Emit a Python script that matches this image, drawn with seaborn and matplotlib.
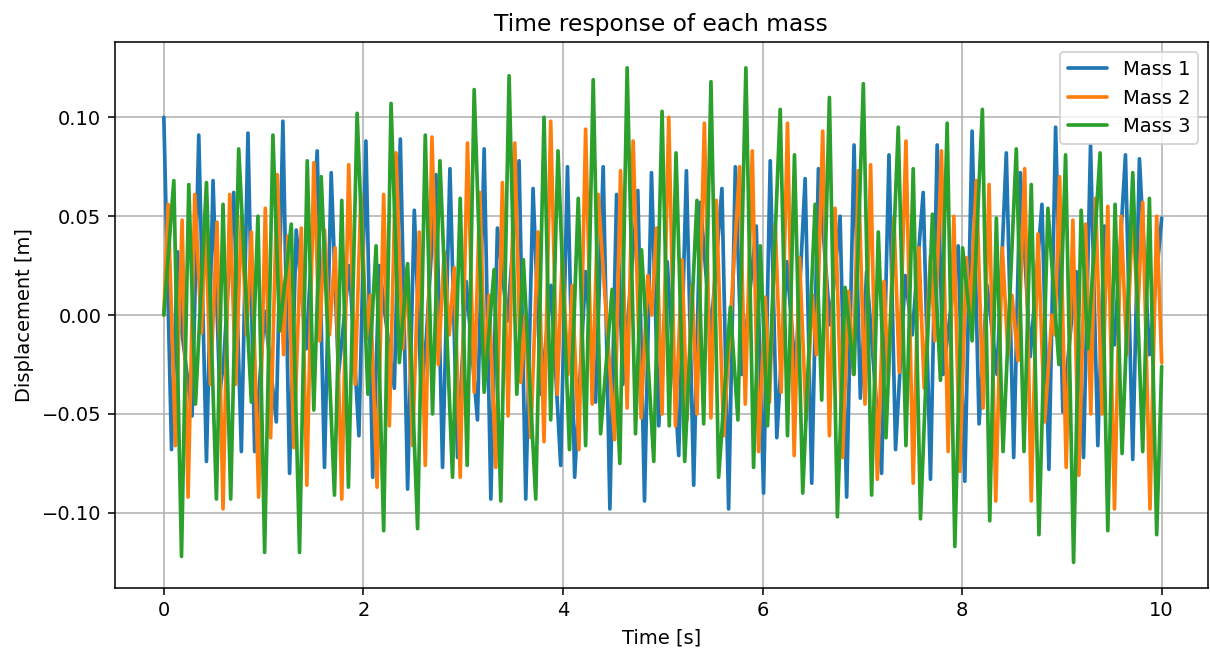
import matplotlib
matplotlib.use("Agg")
import matplotlib.pyplot as plt
import seaborn as sns

# Peaks and troughs of each mass
t_mass1 = [0.00, 0.077, 0.137, 0.18, 0.283, 0.35, 0.427, 0.493, 0.56, 0.60, 0.70, 0.777, 0.843, 0.91,
           1.01, 1.127, 1.193, 1.26, 1.327, 1.427, 1.537, 1.61, 1.677, 1.75, 1.86, 1.955,
           2.025, 2.093, 2.16, 2.21, 2.31, 2.37, 2.443, 2.51, 2.58, 2.63, 2.727, 2.793, 2.867, 2.943,
           3.03, 3.143, 3.21, 3.277, 3.343, 3.443, 3.56, 3.627, 3.70, 3.78, 3.88, 3.977,
           4.045, 4.117, 4.227, 4.327, 4.403, 4.47, 4.537, 4.60, 4.75, 4.817, 4.887, 4.96,
           5.045, 5.16, 5.237, 5.31, 5.377, 5.48, 5.593, 5.66, 5.727, 5.793, 5.937,
           6.01, 6.077, 6.143, 6.243, 6.33, 6.427, 6.493, 6.56, 6.677, 6.777, 6.843, 6.917, 6.98,
           7.043, 7.193, 7.267, 7.333, 7.43, 7.50, 7.61, 7.683, 7.75, 7.81, 7.96,
           8.027, 8.10, 8.17, 8.25, 8.35, 8.443, 8.517, 8.583, 8.683, 8.80, 8.87, 8.937,
           9.01, 9.143, 9.217, 9.287, 9.36, 9.427, 9.527, 9.637, 9.71, 9.777, 9.877, 10.0]
x_mass1 = [0.100, -0.068, 0.032, -0.008, -0.051, 0.091, -0.074, 0.068, -0.040, -0.023, 0.062, -0.069, 0.092, -0.069,
           0.002, -0.054, 0.098, -0.080, 0.043, -0.017, 0.083, -0.077, 0.072, -0.030, 0.025, -0.061,
           0.088, -0.082, 0.025, 0.003, -0.037, 0.089, -0.088, 0.053, -0.040, -0.012, 0.071, -0.077, 0.074, -0.072,
           0.017, -0.053, 0.084, -0.093, 0.044, -0.003, 0.078, -0.093, 0.064, -0.040, 0.015, -0.076,
           0.075, -0.082, 0.022, -0.044, 0.075, -0.098, 0.061, -0.035, 0.063, -0.094, 0.072, -0.056,
           0.027, -0.071, 0.073, -0.086, 0.057, -0.010, 0.064, -0.098, 0.075, -0.030, 0.045,
           -0.090, 0.078, -0.062, 0.027, -0.030, 0.069, -0.085, 0.074, -0.005, 0.050, -0.092, 0.086, -0.042,
           0.022, -0.080, 0.081, -0.068, 0.020, -0.010, 0.062, -0.083, 0.086, -0.030, 0.035,
           -0.084, 0.093, -0.055, 0.015, -0.030, 0.082, -0.072, 0.072, -0.021, 0.056, -0.078, 0.095,
           -0.049, 0.022, -0.072, 0.086, -0.066, 0.045, -0.015, 0.081, -0.073, 0.079, -0.020, 0.049]

t_mass2 = [0.00, 0.043, 0.117, 0.183, 0.243, 0.31, 0.377, 0.417, 0.467, 0.533, 0.593, 0.66, 0.72, 0.777, 0.83, 0.877, 0.95,
           1.017, 1.07, 1.137, 1.20, 1.243, 1.303, 1.377, 1.433, 1.503, 1.56, 1.61, 1.66, 1.717, 1.783, 1.853, 1.917, 1.975,
           2.03, 2.07, 2.137, 2.203, 2.26, 2.327, 2.393, 2.437, 2.493, 2.56, 2.62, 2.687, 2.75, 2.81, 2.86, 2.91, 2.97,
           3.043, 3.11, 3.167, 3.22, 3.26, 3.327, 3.393, 3.45, 3.517, 3.577, 3.62, 3.677, 3.75, 3.81, 3.877, 3.943, 3.993,
           4.05, 4.093, 4.16, 4.227, 4.293, 4.353, 4.517, 4.577, 4.643, 4.703, 4.783, 4.85, 4.89, 4.937, 4.993,
           5.06, 5.127, 5.193, 5.243, 5.293, 5.343, 5.417, 5.483, 5.537, 5.61, 5.77, 5.827, 5.897, 5.96,
           6.027, 6.07, 6.127, 6.187, 6.25, 6.317, 6.37, 6.437, 6.50, 6.54, 6.603, 6.67, 6.727, 6.803, 6.86, 6.91, 6.96,
           7.027, 7.083, 7.15, 7.217, 7.26, 7.317, 7.37, 7.437, 7.51, 7.567, 7.62, 7.683, 7.727, 7.793, 7.86, 7.917, 7.977,
           8.043, 8.08, 8.143, 8.21, 8.27, 8.337, 8.403, 8.46, 8.50, 8.56, 8.627, 8.693, 8.76, 8.827, 8.90, 8.93, 8.977,
           9.043, 9.11, 9.17, 9.237, 9.29, 9.337, 9.403, 9.46, 9.527, 9.593, 9.65, 9.71, 9.76, 9.81, 9.883, 9.95, 10.0]
x_mass2 = [0.000, 0.056, -0.066, 0.048, -0.092, 0.061, -0.009, 0.050, -0.035, 0.047, -0.098, 0.061, -0.035, 0.050, -0.010, 0.042, -0.092,
           0.054, -0.062, 0.071, -0.020, 0.040, -0.067, 0.044, -0.086, 0.077, -0.013, 0.043, -0.010, 0.034, -0.093, 0.076, -0.035, 0.061,
           -0.012, 0.010, -0.087, 0.061, -0.056, 0.082, -0.017, 0.024, -0.066, 0.042, -0.076, 0.090, -0.025, 0.032, -0.010, 0.024, -0.082,
           0.087, -0.039, 0.062, -0.033, 0.010, -0.077, 0.067, -0.051, 0.087, -0.034, 0.000, -0.062, 0.042, -0.064, 0.098, -0.040, 0.030,
           -0.030, 0.015, -0.068, 0.094, -0.045, 0.061, -0.063, 0.073, -0.047, 0.088, -0.052, 0.020, 0.000, 0.044, -0.050,
           0.100, -0.056, 0.028, -0.053, 0.015, -0.050, 0.097, -0.052, 0.058, -0.061, 0.075, -0.045, 0.083, -0.069,
           0.009, -0.044, 0.046, -0.039, 0.097, -0.071, 0.029, -0.053, 0.010, -0.020, 0.093, -0.061, 0.054, -0.072, 0.012, -0.030, 0.073,
           -0.045, 0.076, -0.083, 0.017, -0.033, 0.049, -0.029, 0.088, -0.085, 0.034, -0.037, 0.030, -0.013, 0.083, -0.069, 0.050, -0.079,
           0.029, 0.000, 0.068, -0.047, 0.066, -0.094, 0.034, -0.020, 0.010, -0.023, 0.074, -0.094, 0.041, -0.054, 0.000, -0.010, 0.070,
           -0.077, 0.048, -0.081, 0.046, -0.050, 0.059, -0.050, 0.055, -0.098, 0.050, -0.020, 0.053, 0.000, 0.057, -0.098, 0.050, -0.024]

t_mass3 = [0.00, 0.10, 0.177, 0.25, 0.317, 0.427, 0.527, 0.593, 0.67, 0.75, 0.877, 0.943,
           1.01, 1.093, 1.16, 1.277, 1.36, 1.437, 1.503, 1.577, 1.71, 1.783, 1.85, 1.937,
           2.045, 2.127, 2.203, 2.277, 2.36, 2.443, 2.543, 2.62, 2.693, 2.767, 2.893, 2.97,
           3.04, 3.11, 3.21, 3.31, 3.377, 3.46, 3.537, 3.603, 3.727, 3.81, 3.877, 3.95,
           4.065, 4.153, 4.227, 4.303, 4.377, 4.493, 4.57, 4.643, 4.727, 4.787, 4.91, 4.993,
           5.065, 5.133, 5.22, 5.343, 5.41, 5.483, 5.56, 5.677, 5.753, 5.833, 5.91, 5.977,
           6.05, 6.177, 6.25, 6.32, 6.403, 6.527, 6.593, 6.67, 6.75, 6.827, 6.917,
           7.01, 7.093, 7.16, 7.237, 7.36, 7.437, 7.51, 7.583, 7.703, 7.783, 7.85, 7.927,
           8.005, 8.1, 8.203, 8.277, 8.343, 8.41, 8.543, 8.62, 8.693, 8.77, 8.86, 8.97,
           9.037, 9.117, 9.193, 9.26, 9.383, 9.46, 9.533, 9.603, 9.71, 9.81, 9.877, 9.95, 10.0]
x_mass3 = [0.000, 0.068, -0.122, 0.066, -0.045, 0.067, -0.093, 0.056, -0.093, 0.084, -0.044, 0.050,
           -0.120, 0.091, -0.008, 0.046, -0.120, 0.078, -0.048, 0.070, -0.091, 0.058, -0.087, 0.102,
           -0.040, 0.035, -0.109, 0.107, -0.024, 0.026, -0.108, 0.091, -0.050, 0.078, -0.082, 0.059,
           -0.076, 0.114, -0.039, 0.023, -0.094, 0.121, -0.040, 0.028, -0.093, 0.100, -0.053, 0.083,
           -0.068, 0.059, -0.066, 0.119, -0.060, 0.013, -0.075, 0.125, -0.060, 0.033, -0.074, 0.103,
           -0.056, 0.082, -0.074, 0.058, -0.055, 0.118, -0.082, 0.004, -0.053, 0.125, -0.077, 0.035,
           -0.056, 0.104, -0.061, 0.081, -0.090, 0.056, -0.043, 0.110, -0.102, 0.014, -0.030,
           0.117, -0.091, 0.042, -0.062, 0.095, -0.066, 0.074, -0.103, 0.051, -0.033, 0.097, -0.117,
           0.034, -0.013, 0.104, -0.104, 0.049, -0.069, 0.084, -0.069, 0.066, -0.111, 0.054, -0.025,
           0.081, -0.125, 0.053, -0.017, 0.082, -0.109, 0.056, -0.070, 0.072, -0.069, 0.059, -0.111, -0.026]

sns.set_style("ticks")
plt.rcParams['font.family'] = ['DejaVu Sans']
plt.rcParams['text.color'] = 'black'
plt.rcParams['axes.labelcolor'] = 'black'

# reference looks like a default matplotlib figure saved at ~140 dpi
DPI = 140
fig = plt.figure(figsize=(1210 / DPI, 651 / DPI), dpi=DPI)
ax = fig.add_axes([0.095, 0.097, 0.903, 0.838])

colors = sns.color_palette("tab10")
sns.lineplot(x=t_mass1, y=x_mass1, ax=ax, color=colors[0], label="Mass 1", linewidth=1.9)
sns.lineplot(x=t_mass2, y=x_mass2, ax=ax, color=colors[1], label="Mass 2", linewidth=1.9)
sns.lineplot(x=t_mass3, y=x_mass3, ax=ax, color=colors[2], label="Mass 3", linewidth=1.9)

ax.set_xlim(-0.49, 10.46)
ax.set_ylim(-0.1379, 0.1379)
ax.set_xticks([0, 2, 4, 6, 8, 10])
ax.set_yticks([-0.10, -0.05, 0.00, 0.05, 0.10])
ax.set_yticklabels(["−0.10", "−0.05", "0.00", "0.05", "0.10"])
ax.grid(True, color="#b0b0b0", linewidth=0.8)
for s in ax.spines.values():
    s.set_color("black")
    s.set_linewidth(0.8)
ax.tick_params(colors="black", labelsize=10)

ax.set_title("Time response of each mass", fontsize=12, color="black")
ax.set_xlabel("Time [s]", fontsize=10)
ax.set_ylabel("Displacement [m]", fontsize=10)
ax.legend(loc="upper right", fontsize=10)

fig.savefig("out.png", dpi=DPI)
